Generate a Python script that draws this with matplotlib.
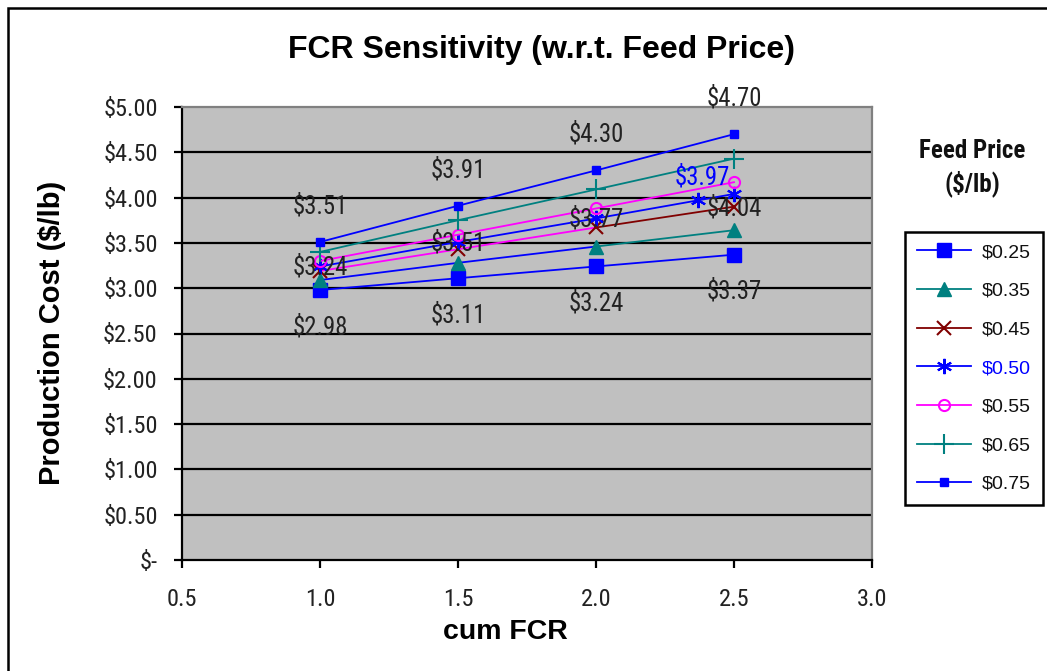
import matplotlib
matplotlib.use("Agg")
import matplotlib.pyplot as plt
from matplotlib.lines import Line2D
from matplotlib.patches import Rectangle
from matplotlib import font_manager as fm

# ---- data ----
fcr = [1.0, 1.5, 2.0, 2.5]
fcr_050 = [1.0, 1.5, 2.0, 2.37, 2.5]
cost_025 = [2.98, 3.11, 3.24, 3.37]
cost_035 = [3.09, 3.28, 3.46, 3.64]
cost_045 = [3.19, 3.43, 3.67, 3.90]
cost_050 = [3.24, 3.51, 3.77, 3.97, 4.04]
cost_055 = [3.30, 3.59, 3.88, 4.17]
cost_065 = [3.40, 3.75, 4.09, 4.43]
cost_075 = [3.51, 3.91, 4.30, 4.70]
series_names = ["$0.25", "$0.35", "$0.45", "$0.50", "$0.55", "$0.65", "$0.75"]
y_ticks = [0, 0.5, 1.0, 1.5, 2.0, 2.5, 3.0, 3.5, 4.0, 4.5, 5.0]
y_ticklabels = ["$-", "$0.50", "$1.00", "$1.50", "$2.00", "$2.50", "$3.00",
                "$3.50", "$4.00", "$4.50", "$5.00"]
x_ticks = [0.5, 1.0, 1.5, 2.0, 2.5, 3.0]
x_ticklabels = ["0.5", "1.0", "1.5", "2.0", "2.5", "3.0"]

# ---- fonts ----
available = {f.name for f in fm.fontManager.ttflist}
narrow_candidates = ["Liberation Sans Narrow", "Arial Narrow", "Nimbus Sans Narrow",
                     "Roboto Condensed", "PT Sans Narrow", "Archivo Narrow",
                     "IBM Plex Sans Condensed"]
NARROW_NAME = next((n for n in narrow_candidates if n in available), None)
if NARROW_NAME is not None:
    NARROW = [NARROW_NAME, "DejaVu Sans"]
    nscale = 1.0
else:
    NARROW = ["Liberation Sans", "DejaVu Sans"]
    nscale = 0.85
WIDE = ["Liberation Sans", "DejaVu Sans"]

BLUE = "#0000FF"
TEAL = "#008080"
DRED = "#800000"
MAG = "#FF00FF"

W, H = 1047, 671
fig = plt.figure(figsize=(W / 100, H / 100), dpi=100)
fig.patch.set_facecolor("white")

ax = fig.add_axes([182 / W, 1 - 560 / H, (872 - 182) / W, (560 - 107) / H])
ax.set_facecolor("#C0C0C0")
ax.set_xlim(0.5, 3.0)
ax.set_ylim(0, 5.0)

for y in y_ticks[1:-1]:
    ax.axhline(y, color="black", lw=1.6, zorder=1)

for s in ["top", "right"]:
    ax.spines[s].set_color("#808080")
    ax.spines[s].set_linewidth(1.6)
for s in ["left", "bottom"]:
    ax.spines[s].set_color("black")
    ax.spines[s].set_linewidth(1.6)

tick_fs = 17.6 * nscale
ax.set_yticks(y_ticks)
ax.set_yticklabels(y_ticklabels, family=NARROW, fontsize=tick_fs, color="#222222")
ax.set_xticks(x_ticks)
ax.set_xticklabels(x_ticklabels, family=NARROW, fontsize=tick_fs, color="#222222")
ax.tick_params(axis="both", direction="out", length=6, width=1.6, color="black")
ax.tick_params(axis="y", pad=11.5)
ax.tick_params(axis="x", pad=14)

lw = 1.3
# $0.25
ax.plot(fcr, cost_025, color=BLUE, lw=lw, marker="s", ms=10.5, mfc=BLUE, mec=BLUE, zorder=3)
# $0.35 (line blue for first segments, teal for last)
ax.plot(fcr[:3], cost_035[:3], color=BLUE, lw=lw, zorder=3)
ax.plot(fcr[2:], cost_035[2:], color=TEAL, lw=lw, zorder=3)
ax.plot(fcr, cost_035, ls="none", marker="^", ms=10.5, mfc=TEAL, mec=TEAL, zorder=4)
# $0.45 (line magenta first segments, dark red last)
ax.plot(fcr[:3], cost_045[:3], color=MAG, lw=lw, zorder=3)
ax.plot(fcr[2:], cost_045[2:], color=DRED, lw=lw, zorder=3)
ax.plot(fcr, cost_045, ls="none", marker="x", ms=10, mew=1.5, mec=DRED, zorder=4)
# $0.50
ax.plot(fcr_050, cost_050, color=BLUE, lw=lw, marker=(6, 2, 0), ms=11, mew=1.5,
        mec=BLUE, zorder=4)
# $0.55
ax.plot(fcr, cost_055, color=MAG, lw=lw, marker="o", ms=8, mfc="none", mec=MAG,
        mew=1.5, zorder=4)
# $0.65
ax.plot(fcr, cost_065, color=TEAL, lw=lw, marker="+", ms=14, mew=1.5, mec=TEAL, zorder=4)
# $0.75
ax.plot(fcr, cost_075, color=BLUE, lw=lw, marker="s", ms=6, mfc=BLUE, mec=BLUE, zorder=4)

# data labels
lab_kw = dict(textcoords="offset pixels", ha="center", va="center",
              family=NARROW, fontsize=17.8 * nscale, color="#222222", zorder=6)
for xv, yv in zip(fcr, cost_075):
    ax.annotate(f"${yv:.2f}", (xv, yv), xytext=(0, 36), **lab_kw)
for xv, yv in zip(fcr, cost_025):
    ax.annotate(f"${yv:.2f}", (xv, yv), xytext=(0, -37), **lab_kw)
for i, (xv, yv) in enumerate(zip(fcr_050, cost_050)):
    if i == 3:
        ax.annotate(f"${yv:.2f}", (xv, yv), xytext=(4, 23),
                    **{**lab_kw, "color": BLUE})
    elif i == 4:
        ax.annotate(f"${yv:.2f}", (xv, yv), xytext=(0, -14), **lab_kw)
    else:
        ax.annotate(f"${yv:.2f}", (xv, yv), xytext=(0, -1), **lab_kw)

# legend
handles = [
    Line2D([], [], color=BLUE, lw=lw, marker="s", ms=10.5, mfc=BLUE, mec=BLUE),
    Line2D([], [], color=TEAL, lw=lw, marker="^", ms=10.5, mfc=TEAL, mec=TEAL),
    Line2D([], [], color=DRED, lw=lw, marker="x", ms=10, mew=1.5, mec=DRED),
    Line2D([], [], color=BLUE, lw=lw, marker=(6, 2, 0), ms=11, mew=1.5, mec=BLUE),
    Line2D([], [], color=MAG, lw=lw, marker="o", ms=8, mfc="none", mec=MAG, mew=1.5),
    Line2D([], [], color=TEAL, lw=lw, marker="+", ms=14, mew=1.5, mec=TEAL),
    Line2D([], [], color=BLUE, lw=lw, marker="s", ms=6, mfc=BLUE, mec=BLUE),
]
leg = fig.legend(handles, series_names, loc="upper left",
                 bbox_to_anchor=(905 / W, 1 - 232 / H), bbox_transform=fig.transFigure,
                 frameon=True, fancybox=False, edgecolor="black", framealpha=1,
                 prop={"family": WIDE, "size": 14}, handlelength=2.8,
                 labelspacing=1.08, borderpad=0.6, handletextpad=0.55,
                 borderaxespad=0)
leg.get_frame().set_linewidth(1.8)
for t in leg.get_texts():
    t.set_color("#111111")
leg.get_texts()[3].set_color(BLUE)

# texts
fig.text(542 / W, 1 - 50 / H, "FCR Sensitivity (w.r.t. Feed Price)", ha="center",
         va="center", family=WIDE, fontsize=23, fontweight="bold")
fig.text(972 / W, 1 - 168 / H, "Feed Price\n($/lb)", ha="center", va="center",
         family=NARROW, fontsize=18 * nscale, fontweight="bold", linespacing=1.3,
         color="#111111")
fig.text(52 / W, 1 - 333 / H, "Production Cost ($/lb)", ha="center", va="center",
         rotation=90, family=WIDE, fontsize=21, fontweight="bold")
fig.text(505 / W, 1 - 632 / H, "cum FCR", ha="center", va="center",
         family=WIDE, fontsize=20.5, fontweight="bold")

# outer chart border (extends past right and bottom edges)
fig.patches.append(Rectangle((8 / W, -0.1), 1.2, 1 - 8 / H + 0.1,
                             transform=fig.transFigure, fill=False,
                             edgecolor="black", lw=1.8))

fig.savefig("out.png", dpi=100)
